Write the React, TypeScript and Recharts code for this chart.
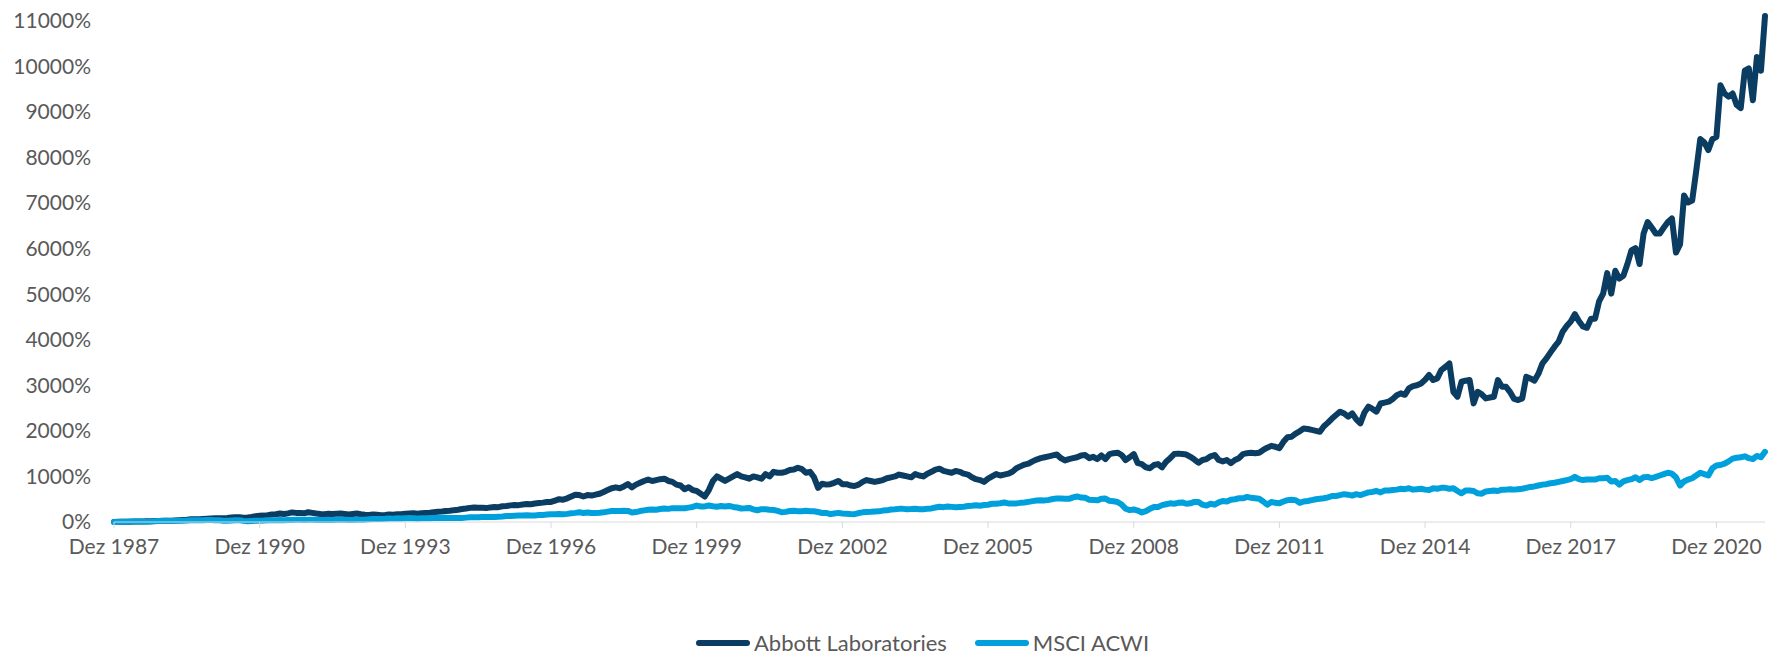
import React from 'react';
import { LineChart, Line, XAxis, YAxis } from 'recharts';

// monthly cumulative return in %, Dez 1987 .. Dez 2021
const abbott = [
  0,
  3, 6, 4, 8, 10, 12, 9, 14, 18, 20, 22, 25, // 1988
  28, 30, 35, 40, 45, 50, 58, 62, 60, 66, 70, 75, // 1989
  80, 85, 85, 90, 100, 105, 105, 95, 100, 110, 125, 135, // 1990
  140, 150, 165, 170, 185, 175, 190, 210, 200, 195, 190, 215, // 1991
  200, 185, 175, 170, 180, 175, 180, 185, 175, 165, 175, 185, // 1992
  170, 160, 155, 165, 160, 150, 155, 165, 160, 170, 170, 180, // 1993
  185, 190, 180, 190, 200, 205, 215, 225, 230, 240, 245, 260, // 1994
  270, 285, 295, 310, 320, 315, 310, 305, 320, 330, 325, 345, // 1995
  350, 365, 375, 370, 385, 395, 390, 405, 415, 425, 440, 440, // 1996
  470, 500, 490, 520, 560, 600, 590, 560, 590, 580, 600, 620, // 1997
  660, 700, 740, 760, 740, 780, 830, 760, 820, 860, 900, 930, // 1998
  900, 920, 940, 950, 900, 880, 820, 800, 720, 760, 700, 680, // 1999
  620, 560, 700, 900, 1000, 950, 900, 950, 1000, 1050, 1000, 980, // 2000
  950, 1000, 980, 950, 1050, 1000, 1100, 1080, 1080, 1100, 1140, 1150, // 2001
  1190, 1160, 1080, 1100, 980, 750, 840, 820, 830, 860, 900, 830, // 2002
  830, 800, 790, 820, 880, 920, 900, 880, 900, 920, 960, 980, // 2003
  1000, 1040, 1020, 1000, 980, 1050, 1020, 1000, 1060, 1100, 1150, 1170, // 2004
  1120, 1100, 1080, 1120, 1100, 1060, 1040, 980, 940, 920, 880, 950, // 2005
  1000, 1050, 1020, 1040, 1060, 1100, 1180, 1220, 1260, 1280, 1330, 1370, // 2006
  1400, 1420, 1440, 1460, 1480, 1400, 1350, 1380, 1400, 1420, 1460, 1469, // 2007
  1400, 1430, 1380, 1460, 1380, 1490, 1510, 1520, 1470, 1360, 1420, 1490, // 2008
  1290, 1270, 1200, 1180, 1250, 1270, 1200, 1320, 1400, 1490, 1500, 1490, // 2009
  1480, 1430, 1370, 1300, 1360, 1380, 1440, 1470, 1360, 1330, 1360, 1290, // 2010
  1360, 1400, 1490, 1510, 1520, 1510, 1520, 1580, 1630, 1670, 1650, 1620, // 2011
  1760, 1860, 1870, 1940, 1990, 2050, 2040, 2020, 2000, 1980, 2100, 2180, // 2012
  2270, 2347, 2420, 2380, 2310, 2383, 2250, 2164, 2400, 2529, 2480, 2420, // 2013
  2600, 2620, 2640, 2700, 2780, 2822, 2790, 2930, 2980, 3000, 3040, 3120, // 2014
  3224, 3114, 3151, 3333, 3400, 3480, 2850, 2750, 3077, 3100, 3114, 2602, // 2015
  2858, 2800, 2712, 2730, 2748, 3114, 2968, 2968, 2850, 2700, 2675, 2712, // 2016
  3187, 3150, 3100, 3250, 3480, 3590, 3720, 3845, 3955, 4174, 4300, 4400, // 2017
  4560, 4410, 4290, 4260, 4460, 4460, 4840, 5010, 5460, 5010, 5510, 5340, // 2018
  5400, 5660, 5960, 6010, 5660, 6330, 6580, 6460, 6330, 6330, 6460, 6580, // 2019
  6660, 5910, 6090, 7160, 7010, 7050, 7700, 8400, 8330, 8160, 8400, 8450, // 2020
  9580, 9400, 9330, 9400, 9150, 9080, 9900, 9950, 9250, 10200, 9900, 11100, // 2021
];

const msci = [
  0,
  2, 5, 8, 10, 9, 12, 11, 8, 12, 16, 20, 22, // 1988
  25, 24, 26, 30, 28, 32, 38, 36, 40, 38, 42, 45, // 1989
  40, 36, 30, 28, 35, 36, 38, 25, 15, 22, 25, 28, // 1990
  32, 40, 38, 40, 42, 38, 44, 45, 48, 48, 42, 50, // 1991
  48, 46, 42, 45, 50, 46, 48, 50, 48, 45, 46, 48, // 1992
  50, 52, 58, 64, 68, 68, 72, 78, 74, 80, 75, 82, // 1993
  88, 84, 78, 82, 84, 84, 88, 92, 88, 92, 86, 88, // 1994
  88, 90, 96, 102, 104, 104, 112, 108, 112, 110, 116, 122, // 1995
  130, 134, 138, 142, 144, 146, 140, 144, 152, 156, 164, 168, // 1996
  172, 174, 170, 178, 190, 200, 212, 198, 210, 196, 200, 204, // 1997
  212, 228, 240, 242, 240, 246, 244, 210, 218, 240, 256, 270, // 1998
  276, 268, 284, 298, 288, 304, 304, 304, 302, 316, 330, 360, // 1999
  340, 342, 362, 346, 336, 350, 340, 352, 330, 318, 296, 300, // 2000
  308, 278, 258, 282, 278, 268, 262, 244, 214, 222, 242, 246, // 2001
  238, 234, 248, 238, 236, 218, 198, 198, 172, 188, 200, 186, // 2002
  180, 174, 172, 196, 212, 218, 224, 232, 234, 250, 256, 274, // 2003
  280, 288, 288, 280, 284, 290, 280, 282, 290, 298, 318, 334, // 2004
  326, 340, 332, 322, 330, 336, 352, 356, 368, 356, 372, 378, // 2005
  400, 400, 412, 428, 408, 406, 408, 420, 428, 442, 458, 470, // 2006
  476, 474, 484, 504, 518, 516, 512, 508, 540, 560, 536, 530, // 2007
  490, 485, 475, 510, 515, 465, 455, 440, 385, 290, 260, 275, // 2008
  250, 210, 240, 290, 330, 330, 370, 390, 410, 400, 420, 430, // 2009
  400, 410, 440, 440, 380, 360, 400, 380, 430, 460, 450, 490, // 2010
  500, 520, 520, 550, 530, 520, 510, 450, 380, 440, 420, 410, // 2011
  450, 480, 490, 480, 420, 450, 460, 480, 500, 510, 520, 540, // 2012
  570, 570, 590, 610, 600, 580, 610, 590, 620, 650, 660, 680, // 2013
  650, 690, 690, 700, 710, 730, 720, 740, 710, 720, 730, 710, // 2014
  700, 740, 730, 750, 750, 730, 740, 680, 630, 690, 690, 680, // 2015
  630, 620, 670, 680, 690, 680, 710, 710, 720, 710, 720, 730, // 2016
  750, 770, 780, 800, 820, 830, 850, 860, 880, 900, 920, 940, // 2017
  990, 940, 920, 930, 930, 930, 960, 960, 970, 890, 900, 820, // 2018
  890, 920, 940, 980, 920, 980, 990, 960, 990, 1020, 1050, 1080, // 2019
  1060, 980, 800, 890, 930, 960, 1020, 1080, 1050, 1020, 1180, 1240, // 2020
  1250, 1280, 1330, 1390, 1410, 1420, 1440, 1400, 1380, 1450, 1420, 1540, // 2021
];

const tickIndex = [0, 36, 72, 108, 144, 180, 216, 252, 288, 324, 360, 396];
const tickLabels = [
  'Dez 1987', 'Dez 1990', 'Dez 1993', 'Dez 1996', 'Dez 1999', 'Dez 2002',
  'Dez 2005', 'Dez 2008', 'Dez 2011', 'Dez 2014', 'Dez 2017', 'Dez 2020',
];
const yTicks = [0, 1000, 2000, 3000, 4000, 5000, 6000, 7000, 8000, 9000, 10000, 11000];

const series = [
  { key: 'abbott', name: 'Abbott Laboratories', color: '#0b3c61' },
  { key: 'msci', name: 'MSCI ACWI', color: '#00a0dc' },
];

const data = abbott.map((v, i) => ({ i, abbott: v, msci: msci[i] }));

const font = "Lato, 'Open Sans', sans-serif";
const textColor = '#595959';

export default function App() {
  return (
    <div style={{ position: 'absolute', left: 0, top: 0, width: 1779, height: 655, background: '#fff', fontFamily: font }}>
      <LineChart width={1779} height={655} data={data} margin={{ top: 16, right: 14, left: 0, bottom: 98 }}>
        <XAxis
          dataKey="i"
          type="number"
          domain={[0, 408]}
          ticks={tickIndex}
          tickFormatter={(v) => tickLabels[tickIndex.indexOf(v)]}
          height={35}
          stroke="#d9d9d9"
          tickSize={6}
          tickMargin={11}
          tick={{ fill: textColor, fontSize: 21, fontFamily: font }}
        />
        <YAxis
          domain={[0, 11000]}
          ticks={yTicks}
          tickFormatter={(v) => `${v}%`}
          width={114}
          axisLine={false}
          tickLine={false}
          tickSize={0}
          tickMargin={23}
          tick={{ fill: textColor, fontSize: 21, fontFamily: font }}
        />
        {series.map((s) => (
          <Line
            key={s.key}
            dataKey={s.key}
            name={s.name}
            stroke={s.color}
            strokeWidth={6}
            dot={false}
            strokeLinejoin="round"
            strokeLinecap="round"
            isAnimationActive={false}
          />
        ))}
      </LineChart>
      <div style={{ position: 'absolute', left: 696, top: 632, height: 22, lineHeight: '22px', display: 'flex', alignItems: 'center', color: textColor, fontSize: 22 }}>
        {series.map((s, k) => (
          <div key={s.key} style={{ display: 'flex', alignItems: 'center', height: 22, marginRight: k === 0 ? 28 : 0 }}>
            <span style={{ display: 'inline-block', width: 54, height: 6, borderRadius: 3, background: s.color, marginRight: 4 }} />
            <span style={{ lineHeight: '22px' }}>{s.name}</span>
          </div>
        ))}
      </div>
    </div>
  );
}
